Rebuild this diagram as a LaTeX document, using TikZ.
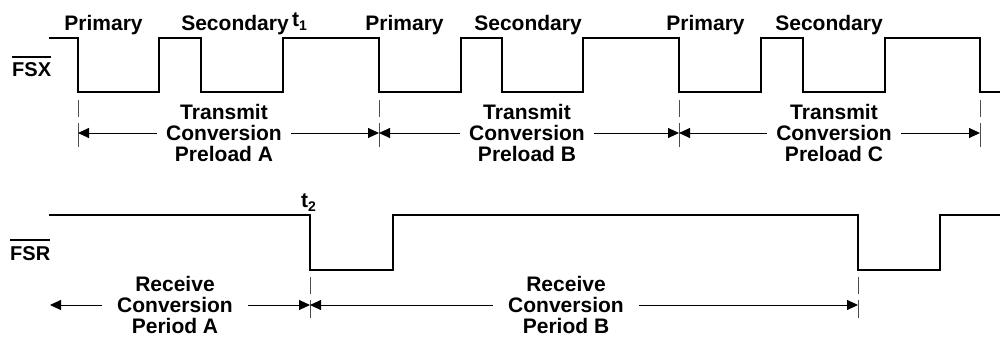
\documentclass[tikz,border=0pt]{standalone}
\usepackage{fontspec}
\setmainfont{Liberation Sans}
\usetikzlibrary{arrows.meta}
\newcommand\barlbl[1]{\setbox0=\hbox{#1}\rlap{\rule[\dimexpr\ht0+5pt\relax]{\wd0}{2pt}}\box0}
\begin{document}
\begin{tikzpicture}[x=1pt,y=-1pt,
  wave/.style={line width=2.7pt, line join=miter},
  lbl/.style={font=\bfseries\fontsize{21}{21.5}\selectfont, inner sep=0pt},
  siglbl/.style={font=\bfseries\fontsize{20}{20}\selectfont, inner sep=0pt},
  dimtxt/.style={font=\bfseries\fontsize{21}{21}\selectfont, align=center, inner ysep=0pt},
  dimline/.style={line width=0.9pt, -{Triangle[length=11pt,width=10pt]}},
  ticker/.style={line width=0.8pt, draw=black!70, dash pattern=on 17pt off 6pt on 60pt off 0pt}]
\useasboundingbox (0,0) rectangle (1000,337);
% FSX waveform
\draw[wave] (49,38) -- (78,38) -- (78,92) -- (159,92) -- (159,38) -- (201,38) -- (201,92)
  -- (283,92) -- (283,38) -- (379,38) -- (379,92) -- (461,92) -- (461,38) -- (502,38)
  -- (502,92) -- (583,92) -- (583,38) -- (679,38) -- (679,92) -- (761,92) -- (761,38)
  -- (803,38) -- (803,92) -- (885,92) -- (885,38) -- (980,38) -- (980,92) -- (1000,92);
% FSR waveform
\draw[wave] (49,215) -- (310,215) -- (310,270) -- (393,270) -- (393,215) -- (858,215)
  -- (858,270) -- (940,270) -- (940,215) -- (1000,215);
% labels
\node[siglbl, anchor=base west] (fsx) at (12,77) {\barlbl{FSX}};
\node[siglbl, anchor=base west] (fsr) at (10,260) {\barlbl{FSR}};
\node[lbl, anchor=base] (p1) at (103.5,31) {Primary};
\node[lbl, anchor=base] (p2) at (404.5,31) {Primary};
\node[lbl, anchor=base] (p3) at (705.5,31) {Primary};
\node[lbl, anchor=base] (s1) at (235,31) {Secondary};
\node[lbl, anchor=base] (s2) at (528,31) {Secondary};
\node[lbl, anchor=base] (s3) at (829,31) {Secondary};
\node[lbl, anchor=base west] (t1) at (292,27) {t\raisebox{-4pt}{\fontsize{14}{14}\selectfont 1}};
\node[lbl, anchor=base west] (t2) at (301,207) {t\raisebox{-4pt}{\fontsize{14}{14}\selectfont 2}};
% ticks
\foreach \x in {78,379,679,980} \draw[ticker] (\x,100) -- (\x,147);
\foreach \x in {310,858} \draw[ticker] (\x,277) -- (\x,318);
% dimension coordinates
\coordinate (x0) at (78,133);
\coordinate (x1) at (379,133);
\coordinate (x2) at (679,133);
\coordinate (x3) at (980,133);
\coordinate (rL) at (50,305);
\coordinate (r1) at (310,305);
\coordinate (r2) at (858,305);
% dimension texts
\node[dimtxt, inner xsep=9pt] (tA) at (224,133) {Transmit\\Conversion\\Preload A};
\node[dimtxt, inner xsep=9pt] (tB) at (527,133) {Transmit\\Conversion\\Preload B};
\node[dimtxt, inner xsep=9pt] (tC) at (834,133) {Transmit\\Conversion\\Preload C};
\node[dimtxt, inner xsep=15pt] (rA) at (175,305) {Receive\\Conversion\\Period A};
\node[dimtxt, inner xsep=15pt] (rB) at (566,305) {Receive\\Conversion\\Period B};
% dimension lines
\draw[dimline] (tA.west) -- (x0);
\draw[dimline] (tA.east) -- (x1);
\draw[dimline] (tB.west) -- (x1);
\draw[dimline] (tB.east) -- (x2);
\draw[dimline] (tC.west) -- (x2);
\draw[dimline] (tC.east) -- (x3);
\draw[dimline] (rA.west) -- (rL);
\draw[dimline] (rA.east) -- (r1);
\draw[dimline] (rB.west) -- (r1);
\draw[dimline] (rB.east) -- (r2);
\end{tikzpicture}
\end{document}
